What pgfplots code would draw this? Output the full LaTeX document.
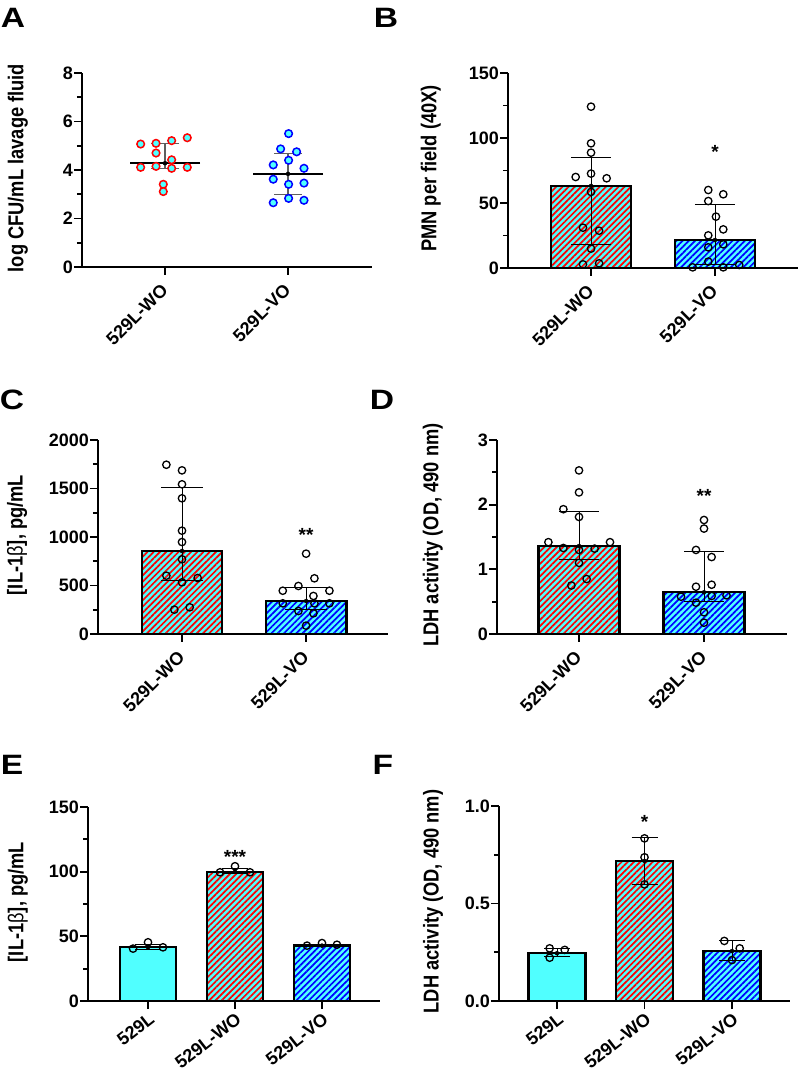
\documentclass[border=0pt]{standalone}
\usepackage{fontspec}
\setmainfont{Liberation Sans}
\newfontfamily\hfont{Liberation Sans}[FakeStretch=1.2]
\newfontfamily\vfont{Liberation Sans}[FakeStretch=0.85]
\newfontfamily\dfont{Liberation Sans}
\usepackage{pgfplots}
\pgfplotsset{compat=1.18}
\usetikzlibrary{patterns.meta}

\definecolor{cy}{RGB}{80,255,255}
\definecolor{whisk}{RGB}{95,95,95}

\pgfplotsset{
  gp/.style={
    scale only axis, anchor=south west,
    axis lines=left, axis line style={-, line width=1.8pt},
    tick align=outside, tick style={line width=1.8pt, black},
    major tick length=8pt, minor tick length=5pt,
    minor y tick num=1, ymin=0, clip=false,
    yticklabel style={font=\dfont\bfseries\fontsize{18pt}{18pt}\selectfont, inner sep=1pt},
    ylabel style={font=\vfont\bfseries\fontsize{21.5pt}{22pt}\selectfont, anchor=center},
  },
  two/.style={xtick={0,1}, xticklabels={529L-WO,529L-VO},
    xticklabel style={font=\dfont\bfseries\fontsize{18pt}{18pt}\selectfont,
      xshift=-5pt, yshift=-6pt, rotate=45, anchor=north east, inner sep=1pt}},
  three/.style={xtick={0,1,2}, xticklabels={529L,529L-WO,529L-VO},
    xticklabel style={font=\dfont\bfseries\fontsize{18pt}{18pt}\selectfont,
      yshift=-1pt, rotate=38, anchor=north east, inner sep=1pt}},
  wo/.style={ybar, bar width=0.65, bar shift=0pt, draw=black, line width=2.3pt, fill=none,
    preaction={fill=cy},
    preaction={pattern={Lines[angle=45,distance=4.4pt,line width=1.7pt]}, pattern color=red}},
  vo/.style={ybar, bar width=0.65, bar shift=0pt, draw=black, line width=2.3pt, fill=none,
    preaction={fill=cy},
    preaction={pattern={Lines[angle=45,distance=4.4pt,line width=1.7pt]}, pattern color=blue}},
  plain/.style={ybar, bar width=0.65, bar shift=0pt, draw=black, line width=2.3pt, fill=cy},
  pts/.style={only marks, mark=o, mark size=3.7pt, mark options={black, line width=1.3pt, fill=none}},
  eb/.style={only marks, mark=none, forget plot,
    error bars/.cd, y dir=both, y explicit, error mark=|,
    error bar style={draw=black, line width=0.9pt},
    error mark options={draw=black, line width=0.9pt, mark size=#1}},
}
\tikzset{sig/.style={font=\dfont\bfseries\fontsize{19pt}{19pt}\selectfont, anchor=base, yshift=-11pt}}
\newcommand{\panel}[3]{\node[font=\hfont\bfseries\fontsize{28pt}{28pt}\selectfont, inner sep=0pt] at (#1pt,#2pt) {#3};}

\begin{document}
\begin{tikzpicture}
\path[use as bounding box, fill=white] (0,0) rectangle (800pt,1079pt);

\panel{13}{1061}{A}
\panel{386}{1061}{B}
\panel{12}{679}{C}
\panel{382}{679}{D}
\panel{12}{314}{E}
\panel{383}{314}{F}

% A
\begin{axis}[gp, two, at={(82pt,812pt)}, width=290pt, height=194pt,
  xmin=-0.675, xmax=1.683, ymax=8, ytick={0,2,4,6,8}, yticklabels={0,2,4,6,8},
  ylabel={log CFU/mL lavage fluid}, ylabel style={at={(axis description cs:-0.221,0.51)}}]
  \addplot[only marks, mark=-, mark size=35pt, mark options={black, line width=2pt}]
    coordinates {(0,4.28) (1,3.84)};
  \addplot[only marks, mark=none, forget plot,
    error bars/.cd, y dir=both, y explicit, error mark=|,
    error bar style={draw=whisk, line width=1.2pt},
    error mark options={draw=whisk, line width=1.2pt, mark size=14pt}]
    coordinates {(0,4.28) += (0,0.82) -= (0,0.21) (1,3.84) += (0,0.83) -= (0,0.84)};
  \addplot[only marks, mark=*, mark size=3.8pt, mark options={draw=red, fill=cy, line width=1.5pt}]
    coordinates {(-0.198,5.07) (-0.073,5.10) (0.054,5.21) (0.181,5.33) (-0.073,4.70) (0.054,4.42)
      (-0.198,4.11) (-0.073,4.15) (0.054,4.07) (0.181,4.11) (-0.014,3.41) (-0.014,3.11)};
  \addplot[only marks, mark=*, mark size=3.8pt, mark options={draw=blue, fill=cy, line width=1.5pt}]
    coordinates {(1.005,5.50) (0.94,4.87) (1.07,4.75) (1.005,4.40) (0.88,4.21) (1.13,4.07)
      (0.88,3.62) (1.005,3.41) (1.13,3.46) (0.88,2.65) (1.005,2.83) (1.13,2.75)};
\end{axis}

% B
\begin{axis}[gp, two, at={(508pt,811pt)}, width=290pt, height=195pt,
  xmin=-0.67, xmax=1.67, ymax=150, ytick={0,50,100,150}, yticklabels={0,50,100,150},
  ylabel={PMN per field (40X)}, ylabel style={at={(axis description cs:-0.266,0.51)}}]
  \addplot[wo] coordinates {(0,63.1)};
  \addplot[vo] coordinates {(1,21.5)};
  \addplot[eb=20pt] coordinates {(0,63.1) += (0,22) -= (0,45) (1,21.5) += (0,27.2) -= (0,18.5)};
  \addplot[pts] coordinates {(0,124.1) (0,95.9) (0,88.7) (-0.124,70.0) (0,72.6) (0.126,69.0)
    (0,58.5) (-0.065,31.0) (0.065,28.7) (0,14.9) (-0.065,2.8) (0.065,3.6)};
  \addplot[pts] coordinates {(0.946,60.0) (1.067,56.7) (0.946,51.5) (1.008,39.5) (1.067,29.7)
    (0.946,25.1) (0.946,15.9) (1.067,18.2) (0.946,4.9) (0.82,0.5) (1.067,0.5) (1.196,2.3)};
  \node[sig] at (axis cs:1,93) {*};
\end{axis}

% C
\begin{axis}[gp, two, at={(98pt,445pt)}, width=290pt, height=194pt,
  xmin=-0.677, xmax=1.66, ymax=2000, ytick={0,500,1000,1500,2000},
  yticklabels={0,500,1000,1500,2000},
  ylabel={[IL-1{\mdseries β}], pg/mL}, ylabel style={at={(axis description cs:-0.279,0.51)}}]
  \addplot[wo] coordinates {(0,856)};
  \addplot[vo] coordinates {(1,340)};
  \addplot[eb=21pt] coordinates {(0,856) += (0,652) -= (0,307) (1,340) += (0,145) -= (0,85)};
  \addplot[pts] coordinates {(-0.126,1745) (0,1687) (0,1543) (0,1399) (0,1065) (0,948) (0,770)
    (-0.126,601) (0.126,577) (0,533) (-0.062,251) (0.062,275)};
  \addplot[pts] coordinates {(1,828) (1.067,574) (0.938,495) (0.812,446) (1.188,446) (1.059,392)
    (0.812,316) (1.067,316) (1.188,316) (0.938,237) (1.059,213) (1,86)};
  \node[sig] at (axis cs:1,1072) {**};
\end{axis}

% D
\begin{axis}[gp, two, at={(497pt,445pt)}, width=290pt, height=194pt,
  xmin=-0.656, xmax=1.664, ymax=3, ytick={0,1,2,3}, yticklabels={0,1,2,3},
  ylabel={LDH activity (OD, 490 nm)}, ylabel style={at={(axis description cs:-0.221,0.51)}}]
  \addplot[wo] coordinates {(0,1.36)};
  \addplot[vo] coordinates {(1,0.645)};
  \addplot[eb=20pt] coordinates {(0,1.36) += (0,0.54) -= (0,0.205) (1,0.645) += (0,0.625) -= (0,0.135)};
  \addplot[pts] coordinates {(0,2.53) (0,2.19) (-0.125,1.93) (0,1.81) (-0.245,1.42) (0.248,1.42)
    (-0.125,1.33) (0,1.30) (0.125,1.32) (0,1.10) (0.061,0.85) (-0.061,0.75)};
  \addplot[pts] coordinates {(1,1.763) (1,1.63) (0.936,1.30) (1.061,1.19) (0.936,0.731) (1.061,0.762)
    (0.816,0.577) (1.061,0.588) (1.18,0.598) (0.936,0.484) (1,0.336) (1,0.175)};
  \node[sig] at (axis cs:1,2.21) {**};
\end{axis}

% E
\begin{axis}[gp, three, at={(88pt,78pt)}, width=292pt, height=194pt,
  xmin=-0.69, xmax=2.667, ymax=150, ytick={0,50,100,150}, yticklabels={0,50,100,150},
  ylabel={[IL-1{\mdseries β}], pg/mL}, ylabel style={at={(axis description cs:-0.24,0.51)}}]
  \addplot[plain] coordinates {(0,41.5)};
  \addplot[wo] coordinates {(1,100)};
  \addplot[vo] coordinates {(2,42.8)};
  \addplot[eb=13pt] coordinates {(0,41.5) += (0,2.5) -= (0,1.5) (1,100) += (0,2.5) -= (0,1)
    (2,42.8) += (0,1) -= (0,1)};
  \addplot[pts] coordinates {(-0.172,40.5) (0,45.4) (0.172,41.5) (0.828,99.5) (1,104.2) (1.172,99.5)
    (1.828,42.8) (2,44.8) (2.172,43.5)};
  \node[sig] at (axis cs:1,114.7) {***};
\end{axis}

% F
\begin{axis}[gp, three, at={(499pt,78pt)}, width=291pt, height=195pt,
  xmin=-0.663, xmax=2.663, ymax=1, ytick={0,0.5,1}, yticklabels={0.0,0.5,1.0},
  ylabel={LDH activity (OD, 490 nm)}, ylabel style={at={(axis description cs:-0.227,0.51)}}]
  \addplot[plain] coordinates {(0,0.245)};
  \addplot[wo] coordinates {(1,0.718)};
  \addplot[vo] coordinates {(2,0.256)};
  \addplot[eb=13pt] coordinates {(0,0.245) += (0,0.025) -= (0,0.015) (1,0.718) += (0,0.122) -= (0,0.118)
    (2,0.256) += (0,0.054) -= (0,0.046)};
  \addplot[pts] coordinates {(-0.084,0.270) (-0.084,0.222) (0.088,0.262) (1,0.834) (1,0.737) (1,0.598)
    (1.912,0.308) (2.088,0.270) (2,0.21)};
  \node[sig] at (axis cs:1,0.94) {*};
\end{axis}
\end{tikzpicture}
\end{document}
